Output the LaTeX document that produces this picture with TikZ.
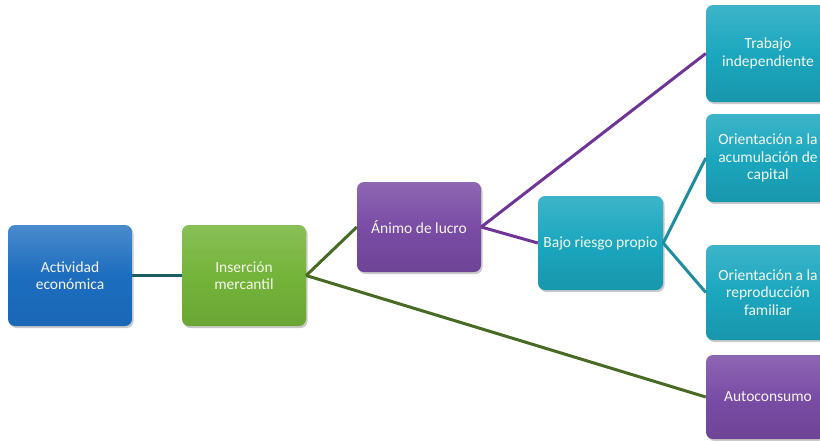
\documentclass[tikz,border=0pt]{standalone}
\usepackage{fontspec}
\setmainfont{Carlito}
\usetikzlibrary{shadows}
\definecolor{cblue}{HTML}{1C6DBF}
\definecolor{cgreen}{HTML}{74B43A}
\definecolor{cpurple}{HTML}{7A4CA6}
\definecolor{cteal}{HTML}{1BA7BF}
\definecolor{lteal}{HTML}{1D5E66}
\definecolor{lgreen}{HTML}{476A24}
\definecolor{lpurple}{HTML}{6E3597}
\definecolor{lcyan}{HTML}{1F8D9C}
\definecolor{ctext}{HTML}{F4F6EA}
\tikzset{
  box/.style={rounded corners=7pt, minimum width=124pt, align=center,
    text=ctext, font=\fontsize{15.5}{17.5}\selectfont, inner sep=2pt,
    drop shadow={shadow xshift=1.5pt, shadow yshift=-2pt, opacity=0.35, fill=black!60}},
  bluebox/.style={box, top color=cblue!80!white, bottom color=cblue!95!black, middle color=cblue},
  greenbox/.style={box, top color=cgreen!85!white, bottom color=cgreen!92!black, middle color=cgreen},
  purplebox/.style={box, top color=cpurple!85!white, bottom color=cpurple!90!black, middle color=cpurple},
  tealbox/.style={box, top color=cteal!85!white, bottom color=cteal!90!black, middle color=cteal},
  link/.style={line width=3pt}
}
\begin{document}
\begin{tikzpicture}[x=1pt,y=-1pt]
\useasboundingbox (0,0) rectangle (820,440);
\clip (0,0) rectangle (820,440);
% left chain
\node[bluebox, minimum height=101pt] (act) at (70,275.5) {Actividad\\económica};
\node[greenbox, minimum height=101pt] (ins) at (244,275.5) {Inserción\\mercantil};
\node[purplebox, minimum height=90pt] (lucro) at (419,227) {Ánimo de lucro};
\node[tealbox, minimum height=94pt, minimum width=125pt] (bajo) at (600.5,243) {Bajo riesgo propio};
% right column (cut by the right edge)
\node[tealbox, minimum height=97pt] (trab) at (768,53.5) {Trabajo\\independiente};
\node[tealbox, minimum height=88pt] (acum) at (768,158) {Orientación a la\\acumulación de\\capital};
\node[tealbox, minimum height=95pt] (repr) at (768,292.5) {Orientación a la\\reproducción\\familiar};
\node[purplebox, minimum height=84pt] (auto) at (768,397) {Autoconsumo};
% connectors
\draw[link, lteal] (act.east) -- (ins.west);
\draw[link, lgreen] (ins.east) -- (lucro.west);
\draw[link, lgreen] (ins.east) -- (auto.west);
\draw[link, lpurple] (lucro.east) -- (trab.west);
\draw[link, lpurple] (lucro.east) -- (bajo.west);
\draw[link, lcyan] (bajo.east) -- (acum.west);
\draw[link, lcyan] (bajo.east) -- (repr.west);
\end{tikzpicture}
\end{document}
